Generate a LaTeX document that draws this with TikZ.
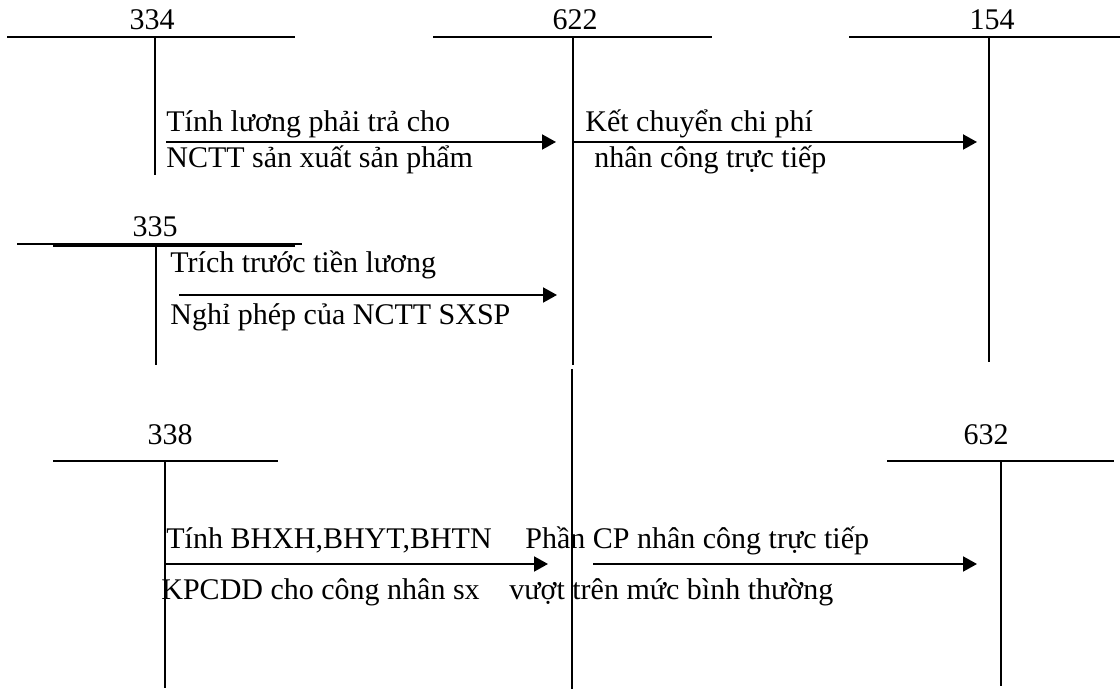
\documentclass[tikz,border=0pt]{standalone}
\usepackage{fontspec}
\setmainfont{Liberation Serif}
\usetikzlibrary{arrows.meta}

\begin{document}
\begin{tikzpicture}[x=0.5pt,y=-0.5pt,
  acct/.style={line width=1.3pt},
  stem/.style={line width=1.1pt},
  flow/.style={line width=1pt,-{Triangle[length=7pt,width=7.5pt]}},
  txt/.style={font=\fontsize{15}{18}\selectfont, inner sep=0pt, anchor=base west},
  num/.style={font=\fontsize{15}{18}\selectfont, inner sep=0pt, anchor=base}]
\useasboundingbox (0,0) rectangle (1120,689);

% ---- account 334 ----
\node[num] (n334) at (152,30) {334};
\draw[acct] (7,37) -- (295,37);
\draw[stem] (155,37) -- (155,175);

% ---- account 622 ----
\node[num] (n622) at (575,30) {622};
\draw[acct] (433,37) -- (712,37);
\draw[stem] (573,37) -- (573,365);
\draw[stem] (572,369) -- (572,689);

% ---- account 154 ----
\node[num] (n154) at (992,30) {154};
\draw[acct] (849,37) -- (1120,37);
\draw[stem] (989,37) -- (989,362);

% ---- account 335 ----
\node[num] (n335) at (155,237) {335};
\draw[line width=0.8pt] (17,244) -- (302,244);
\draw[acct] (53,246) -- (295,246);
\draw[stem] (156,246) -- (156,365);

% ---- account 338 ----
\node[num] (n338) at (170,445) {338};
\draw[acct] (53,461) -- (278,461);
\draw[stem] (165,461) -- (165,688);

% ---- account 632 ----
\node[num] (n632) at (986,445) {632};
\draw[acct] (887,461) -- (1114,461);
\draw[stem] (1001,461) -- (1001,686);

% ---- entry points of the postings ----
\coordinate (s1) at (166,142);  \coordinate (e1) at (556,142);
\coordinate (s2) at (572,142);  \coordinate (e2) at (977,142);
\coordinate (s3) at (179,295);  \coordinate (e3) at (557,295);
\coordinate (s4) at (166,564);  \coordinate (e4) at (548,564);
\coordinate (s5) at (593,564);  \coordinate (e5) at (977,564);

\draw[flow] (s1) -- (e1);
\draw[flow] (s2) -- (e2);
\draw[flow] (s3) -- (e3);
\draw[flow] (s4) -- (e4);
\draw[flow] (s5) -- (e5);

% ---- posting descriptions ----
\node[txt] (t1a) at (166,132) {Tính lương phải trả cho};
\node[txt] (t1b) at (166,168) {NCTT sản xuất sản phẩm};
\node[txt] (t2a) at (585,132) {Kết chuyển chi phí};
\node[txt] (t2b) at (594,168) {nhân công trực tiếp};
\node[txt] (t3a) at (170,273) {Trích trước tiền lương};
\node[txt] (t3b) at (170,325) {Nghỉ phép của NCTT SXSP};
\node[txt] (t4a) at (166,549) {Tính BHXH,BHYT,BHTN};
\node[txt] (t4b) at (161,600) {KPCDD cho công nhân sx};
\node[txt] (t5a) at (525,549) {Phần CP nhân công trực tiếp};
\node[txt] (t5b) at (509,600) {vượt trên mức bình thường};
\end{tikzpicture}
\end{document}
